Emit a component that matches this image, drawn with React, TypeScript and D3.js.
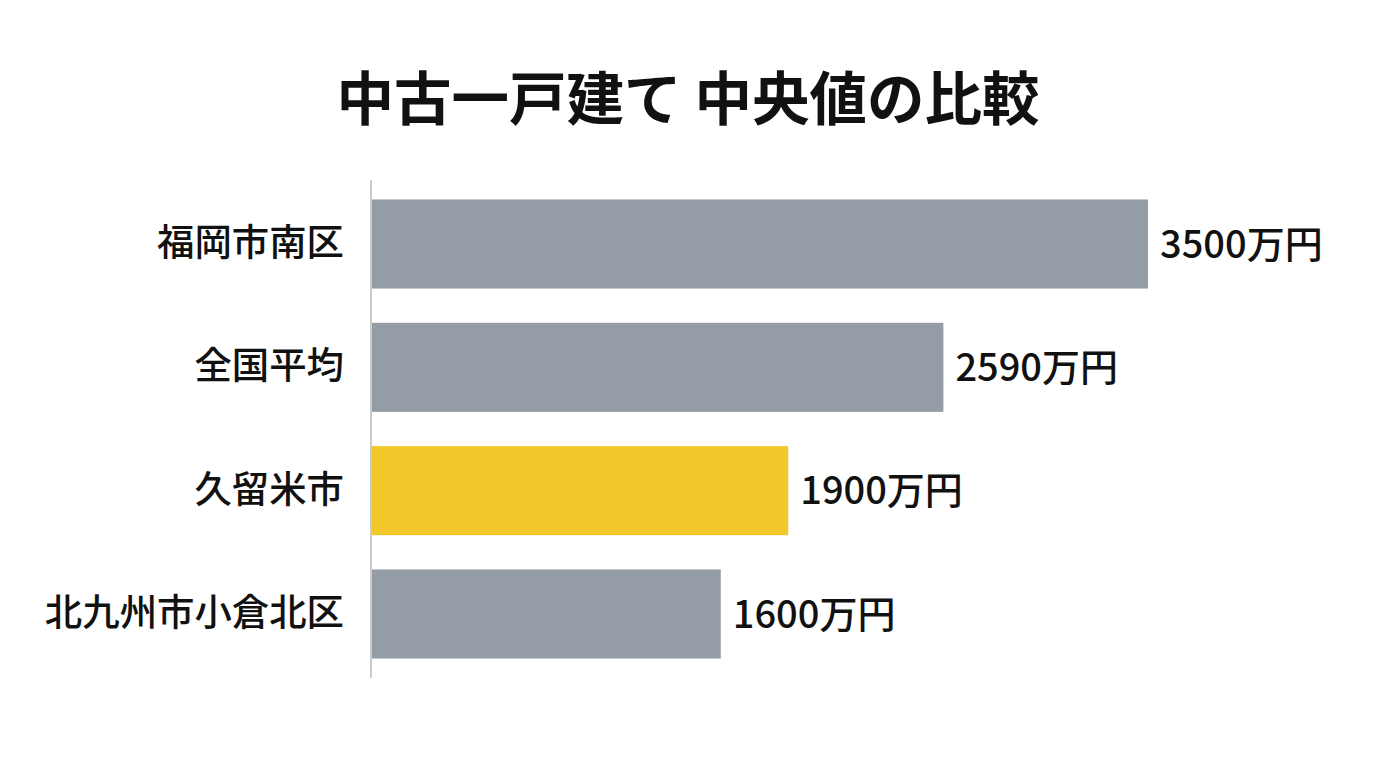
import { useRef, useEffect } from 'react';
import * as d3 from 'd3';

const categories = ['福岡市南区', '全国平均', '久留米市', '北九州市小倉北区'];
const values = [3500, 2590, 1900, 1600];
const highlight = '久留米市';
const title = '中古一戸建て 中央値の比較';

export default function App() {
  const svgRef = useRef<SVGSVGElement>(null);

  useEffect(() => {
    if (!svgRef.current) return;
    const svg = d3.select(svgRef.current);
    svg.selectAll('*').remove();

    const axisX = 371;
    const top = 180;
    const bottom = 678;
    const font = '"Noto Sans CJK JP", "Noto Sans", sans-serif';

    const x = d3.scaleLinear().domain([0, 3500]).range([361, 1148]);
    const y = d3
      .scaleBand<string>()
      .domain(categories)
      .range([top, bottom])
      .paddingInner(0.278)
      .paddingOuter(0.158);

    // Title
    svg
      .append('text')
      .attr('x', 688)
      .attr('y', 120)
      .attr('text-anchor', 'middle')
      .attr('font-family', font)
      .attr('font-weight', 700)
      .attr('font-size', 57.5)
      .attr('fill', '#111')
      .text(title);

    // Bars (start at the axis line)
    svg
      .append('g')
      .selectAll('rect')
      .data(categories)
      .join('rect')
      .attr('x', axisX + 1)
      .attr('y', (d) => y(d)!)
      .attr('width', (d, i) => x(values[i]) - axisX - 1)
      .attr('height', y.bandwidth())
      .attr('fill', (d) => (d === highlight ? '#f2c72a' : '#949ca6'));

    // Value labels
    svg
      .append('g')
      .selectAll('text')
      .data(categories)
      .join('text')
      .attr('x', (d, i) => x(values[i]) + 12)
      .attr('y', (d) => y(d)! + y.bandwidth() / 2)
      .attr('dy', '0.36em')
      .attr('font-family', font)
      .attr('font-weight', 500)
      .attr('font-size', 38)
      .attr('fill', '#111')
      .text((d, i) => `${values[i]}万円`);

    // Category axis
    const axis = svg
      .append('g')
      .attr('transform', `translate(${axisX},0)`)
      .call(d3.axisLeft(y).tickSize(0).tickPadding(27));
    axis.select('.domain').remove();
    axis
      .selectAll('text')
      .attr('font-family', font)
      .attr('font-weight', 500)
      .attr('font-size', 37.4)
      .attr('fill', '#111');

    svg
      .append('line')
      .attr('x1', axisX)
      .attr('x2', axisX)
      .attr('y1', top)
      .attr('y2', bottom)
      .attr('stroke', '#cccccc')
      .attr('stroke-width', 2);
  }, []);

  return (
    <svg
      ref={svgRef}
      width={1376}
      height={768}
      style={{ display: 'block', position: 'absolute', left: 0, top: 0, background: '#fff' }}
    />
  );
}
